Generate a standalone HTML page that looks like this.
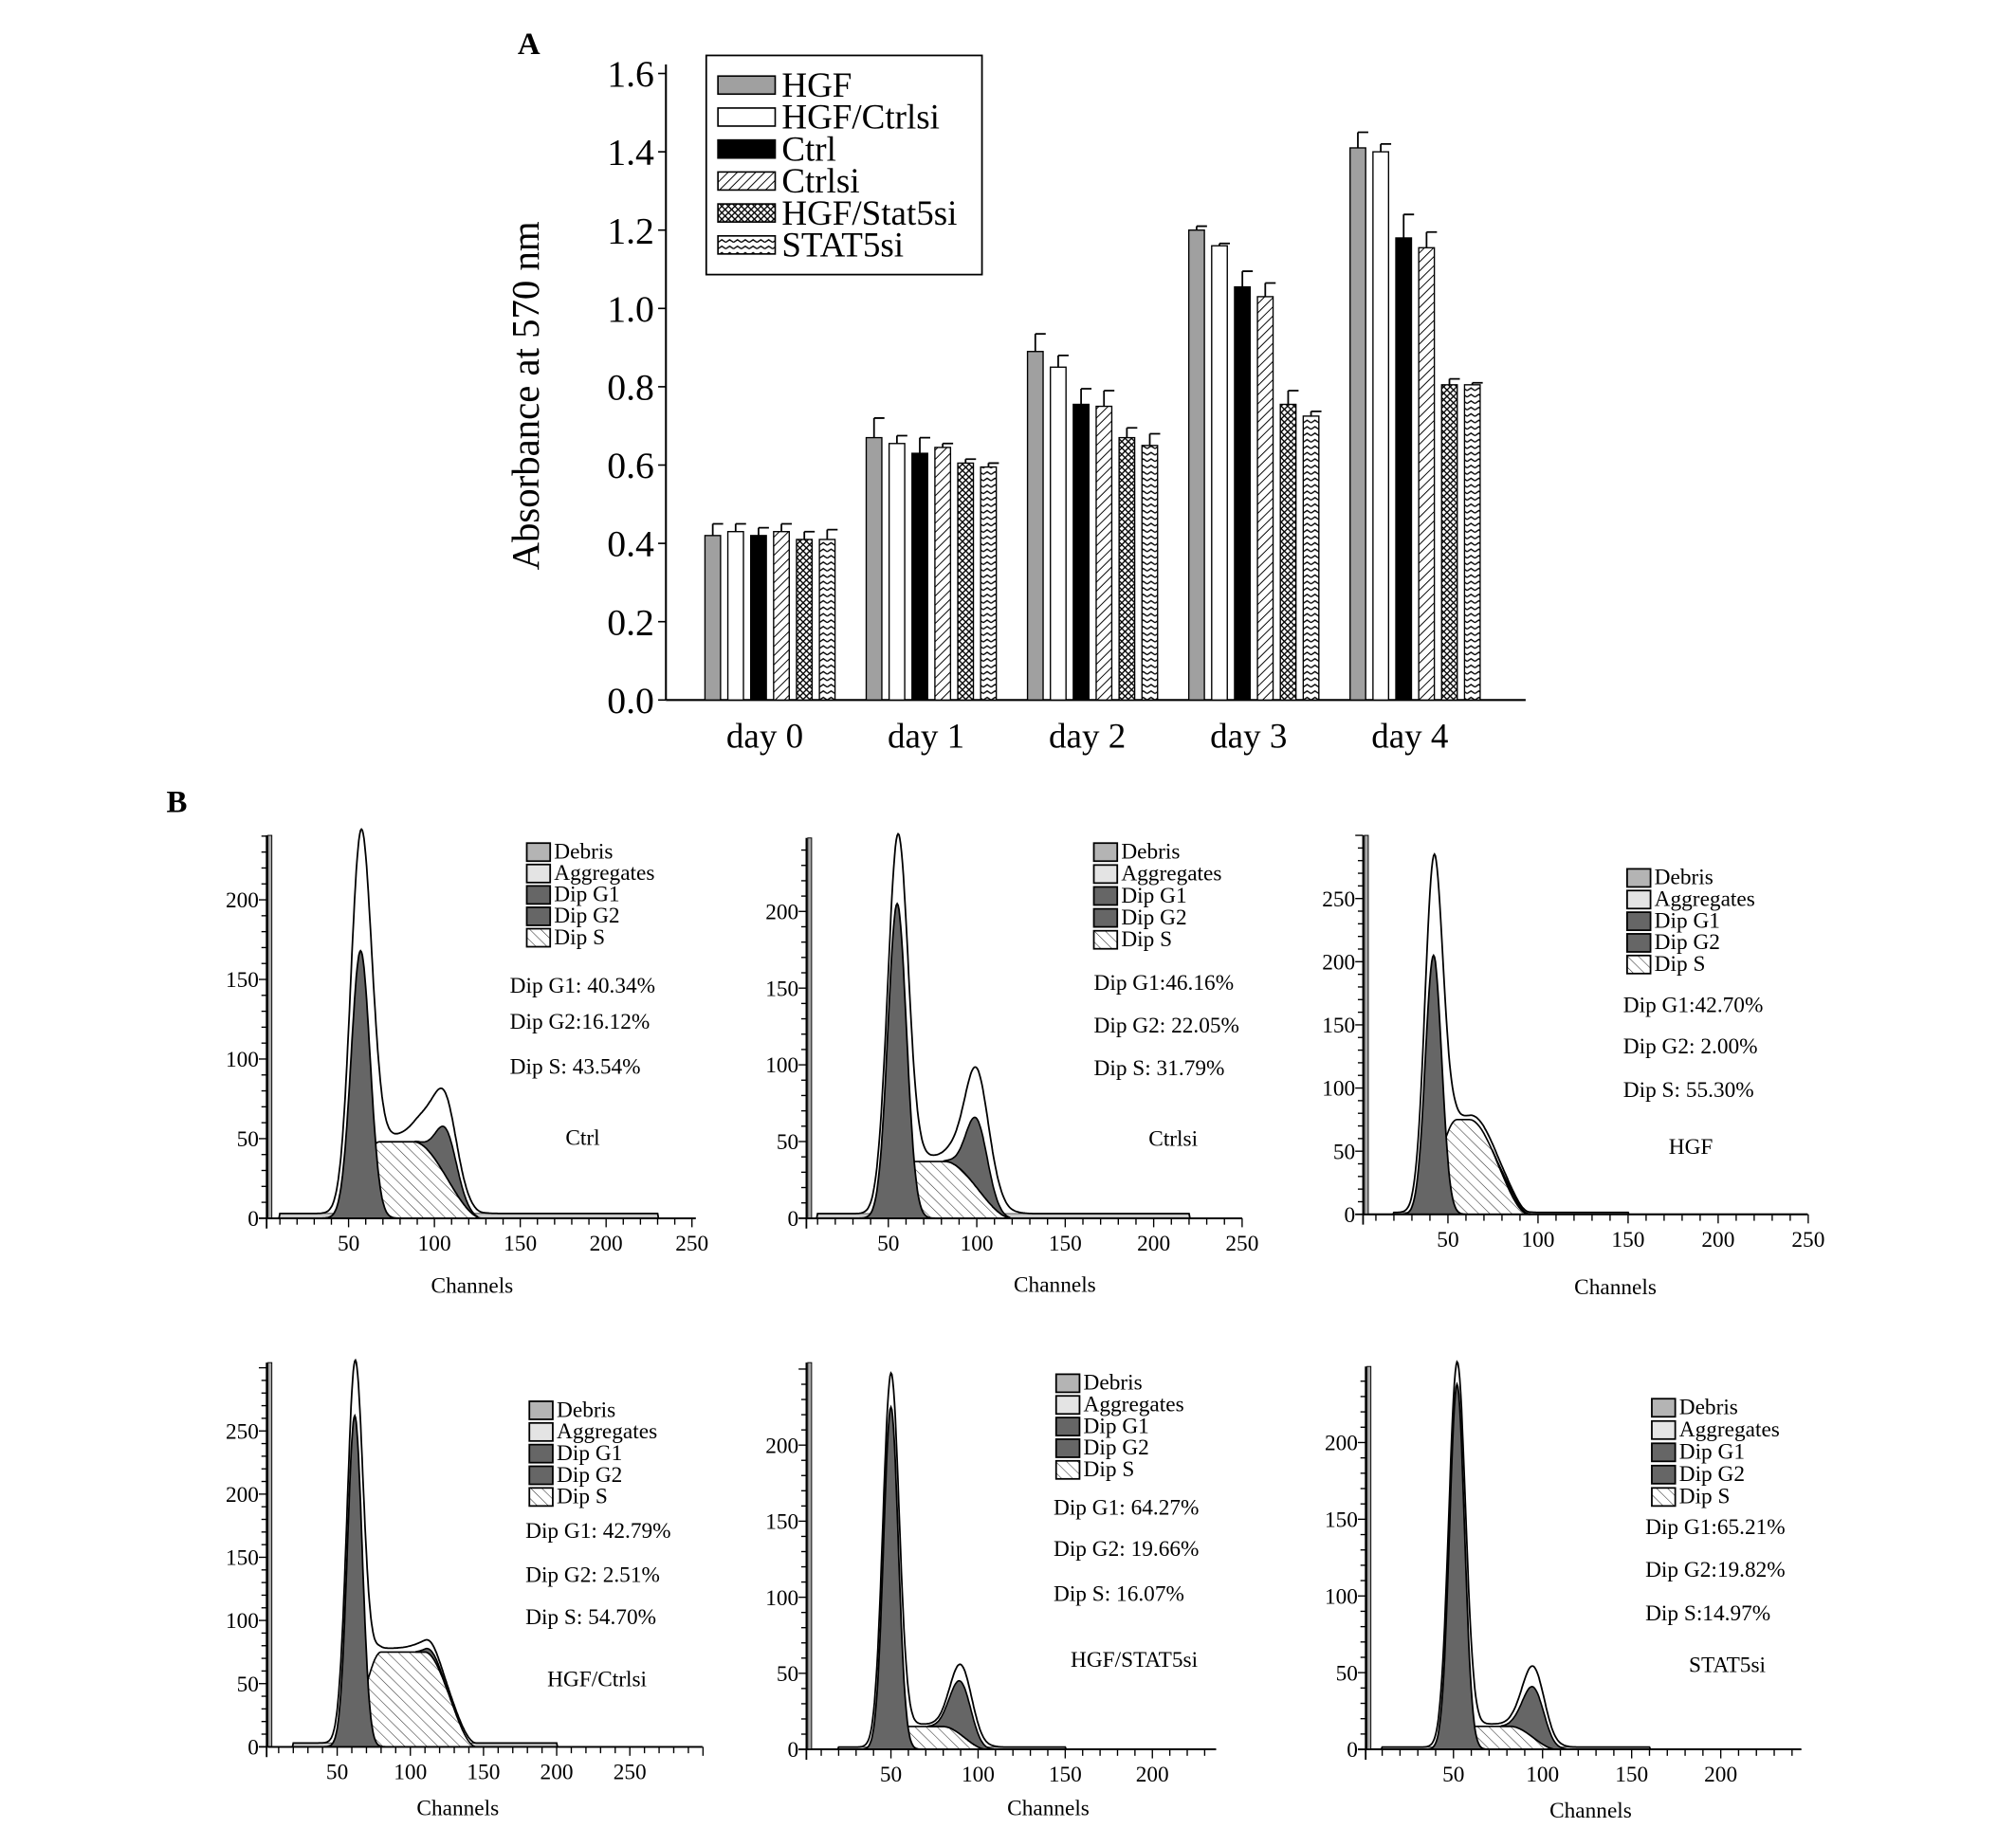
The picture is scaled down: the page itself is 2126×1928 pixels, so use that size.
<!DOCTYPE html>
<html><head><meta charset="utf-8">
<style>
html,body{margin:0;padding:0;background:#fff;}
svg{display:block;font-family:"Liberation Serif",serif;}
</style></head>
<body>
<svg id="fig" width="2126" height="1928" viewBox="0 0 1550 1418" preserveAspectRatio="none" xmlns="http://www.w3.org/2000/svg">
<defs>
<pattern id="diag" patternUnits="userSpaceOnUse" width="5" height="5" patternTransform="rotate(45)"><rect width="5" height="5" fill="#fff"/><line x1="0" y1="0" x2="0" y2="5" stroke="#000" stroke-width="1.4"/></pattern>
<pattern id="cross" patternUnits="userSpaceOnUse" width="5" height="5"><rect width="5" height="5" fill="#fff"/><path d="M0 0L5 5M5 0L0 5" stroke="#000" stroke-width="1"/></pattern>
<pattern id="zig" patternUnits="userSpaceOnUse" width="6" height="5"><rect width="6" height="5" fill="#fff"/><path d="M0 3L3 1L6 3" fill="none" stroke="#000" stroke-width="1"/></pattern>
<pattern id="hatchS" patternUnits="userSpaceOnUse" width="6" height="6" patternTransform="rotate(-45)"><rect width="6" height="6" fill="#fff"/><line x1="0" y1="0" x2="0" y2="6" stroke="#333" stroke-width="0.8"/></pattern>
</defs>
<g id="panelA"></g>
<g id="panelB"></g>
</svg>
<script>
// ---------- Panel A data ----------
const days = ["day 0","day 1","day 2","day 3","day 4"];
const seriesNames = ["HGF","HGF/Ctrlsi","Ctrl","Ctrlsi","HGF/Stat5si","STAT5si"];
const hgfVals = [0.42,0.67,0.89,1.20,1.41];
const hgfErr = [0.03,0.05,0.045,0.01,0.04];
const hgfCtrlsiVals = [0.43,0.655,0.85,1.16,1.40];
const hgfCtrlsiErr = [0.02,0.02,0.03,0.006,0.02];
const ctrlVals = [0.42,0.63,0.755,1.055,1.18];
const ctrlErr = [0.02,0.04,0.04,0.04,0.06];
const ctrlsiVals = [0.43,0.645,0.75,1.03,1.155];
const ctrlsiErr = [0.02,0.01,0.04,0.035,0.04];
const hgfStatVals = [0.41,0.605,0.67,0.755,0.805];
const hgfStatErr = [0.02,0.01,0.025,0.035,0.015];
const statVals = [0.41,0.595,0.65,0.725,0.805];
const statErr = [0.025,0.01,0.03,0.012,0.005];
const yTicksA = [0.0,0.2,0.4,0.6,0.8,1.0,1.2,1.4,1.6];

// ---------- Panel B data ----------
const panelLabels = ["Ctrl","Ctrlsi","HGF","HGF/Ctrlsi","HGF/STAT5si","STAT5si"];
const statG1 = ["Dip G1: 40.34%","Dip G1:46.16%","Dip G1:42.70%","Dip G1: 42.79%","Dip G1: 64.27%","Dip G1:65.21%"];
const statG2 = ["Dip G2:16.12%","Dip G2: 22.05%","Dip G2: 2.00%","Dip G2: 2.51%","Dip G2: 19.66%","Dip G2:19.82%"];
const statS = ["Dip S: 43.54%","Dip S: 31.79%","Dip S: 55.30%","Dip S: 54.70%","Dip S:  16.07%","Dip S:14.97%"];
// G1 peak: [center channel, fitted height, width, total height]
const g1Peaks = [[57,168,5.5,215],[55,205,5.2,228],[42,205,4.5,255],[62,262,5,288],[50,225,4.2,234],[52,238,4.2,240]];
// G2 peak: [center, height, width]
const g2Peaks = [[107,30,6,0],[100,45,6,0],[85,3,5,0],[115,4,5,0],[90,35,6,0],[95,33,6,0]];
// S phase: [start, plateau start, plateau end, end, height]
const sPhase = [[45,68,88,128,48],[48,62,82,120,37],[33,55,62,95,75],[55,80,110,145,75],[38,55,80,105,15],[40,58,82,108,15]];
// extra counts in total curve near G2 (peak ch, height, width)
const g2Extra = [[101,22,10],[100,30,9],[72,4,8],[110,4,8],[92,10,7],[95,12,7]];
// debris level: [start ch, end ch, level]
const debris = [[10,230,3],[10,220,3],[20,150,1.5],[20,200,3],[20,150,1.5],[10,160,1.5]];
const yTicksB = [[0,50,100,150,200],[0,50,100,150,200],[0,50,100,150,200,250],[0,50,100,150,200,250],[0,50,100,150,200],[0,50,100,150,200]];
const xTicksB = [[50,100,150,200,250],[50,100,150,200,250],[50,100,150,200,250],[50,100,150,200,250],[50,100,150,200],[50,100,150,200]];

const NS="http://www.w3.org/2000/svg";
function mk(tag,attrs,parent,text){const e=document.createElementNS(NS,tag);for(const k in attrs)e.setAttribute(k,attrs[k]);if(text!==undefined)e.textContent=text;parent.appendChild(e);return e;}

// ---------- Draw Panel A ----------
(function(){
  const g=document.getElementById('panelA');
  const axX=512, y0=543, yTop=57, xEnd=1173;
  const yS=v=>y0-(v/1.6)*(y0-yTop);
  const groupStart=i=>542+124*i;
  const barW=12, barStep=17.6;
  const fills=["#a0a0a0","#fff","#000","url(#diag)","url(#cross)","url(#zig)"];
  const vals=[hgfVals,hgfCtrlsiVals,ctrlVals,ctrlsiVals,hgfStatVals,statVals];
  const errs=[hgfErr,hgfCtrlsiErr,ctrlErr,ctrlsiErr,hgfStatErr,statErr];
  let t=mk('text',{x:398,y:42,'font-size':24,'font-weight':'bold'},g,'A');
  
  
  let ax=mk('line',{x1:axX,y1:50,x2:axX,y2:y0,stroke:'#000','stroke-width':1.5},g);
  
  
  let xa=mk('line',{x1:axX,y1:y0,x2:xEnd,y2:y0,stroke:'#000','stroke-width':1.5},g);
  
  
  yTicksA.forEach(v=>{
    mk('line',{x1:axX-6,y1:yS(v),x2:axX,y2:yS(v),stroke:'#000','stroke-width':1.2},g);
    const tl=mk('text',{x:503,y:yS(v)+10,'font-size':29,'text-anchor':'end'},g,v.toFixed(1));
    
    
  });
  const yt=mk('text',{x:0,y:0,'font-size':30,'text-anchor':'middle',transform:'translate(414,307) rotate(-90)'},g,'Absorbance at 570 nm');
  
  
  days.forEach((d,i)=>{
    const cx=groupStart(i)+2.5*barStep+barW/2;
    const dl=mk('text',{x:cx-4,y:580,'font-size':27,'text-anchor':'middle'},g,d);
    
    
    vals.forEach((arr,s)=>{
      const x=groupStart(i)+s*barStep, v=arr[i], e=errs[s][i];
      const r=mk('rect',{x:x,y:yS(v),width:barW,height:y0-yS(v),fill:fills[s],stroke:'#000','stroke-width':1},g);
      
      
      mk('path',{d:`M${x+barW/2} ${yS(v)}V${yS(v+e)}M${x+barW/2} ${yS(v+e)}H${x+barW+2}`,stroke:'#000','stroke-width':1.3,fill:'none'},g);
    });
  });
  const lg=mk('g',{},g);
  
  
  mk('rect',{x:543,y:43,width:212,height:170,fill:'#fff',stroke:'#000','stroke-width':1.3},lg);
  seriesNames.forEach((n,s)=>{
    const cy=66+24.8*s;
    const e=mk('g',{},lg);
    
    
    mk('rect',{x:552,y:cy-7,width:44,height:14,fill:fills[s],stroke:'#000','stroke-width':1.2},e);
    mk('text',{x:601,y:cy+9,'font-size':27},e,n);
  });
})();

// ---------- Draw Panel B ----------
const layouts=[
 {ax:205,top:648,y0:945,right:535,ppu:61.75/50,x0:202,ppc:1.32,lx:405,ly:661,ld:16.6,sx:392,sy:[765,793,828],lab:[448,883],ch:[363,1003]},
 {ax:620,top:650,y0:945,right:955,ppu:59.5/50,x0:615,ppc:1.36,lx:841,ly:661,ld:17,sx:841,sy:[763,796,829],lab:[902,884],ch:[811,1002]},
 {ax:1048,top:648,y0:942,right:1390,ppu:49/50,x0:1044,ppc:1.385,lx:1251,ly:681,ld:16.8,sx:1248,sy:[780,812,846],lab:[1300,890],ch:[1242,1004]},
 {ax:205,top:1057,y0:1355,right:540,ppu:49/50,x0:203,ppc:1.125,lx:407,ly:1094,ld:16.8,sx:404,sy:[1188,1222,1255],lab:[459,1303],ch:[352,1408]},
 {ax:620,top:1057,y0:1357,right:935,ppu:59/50,x0:618,ppc:1.34,lx:812,ly:1073,ld:16.8,sx:810,sy:[1170,1202,1237],lab:[872,1288],ch:[806,1408]},
 {ax:1050,top:1060,y0:1357,right:1385,ppu:59.5/50,x0:1049,ppc:1.37,lx:1270,ly:1092,ld:17.3,sx:1265,sy:[1185,1218,1252],lab:[1328,1292],ch:[1223,1410]}
];
const legendNames=["Debris","Aggregates","Dip G1","Dip G2","Dip S"];
const legendFills=["#b4b4b4","#e4e4e4","#666","#666","url(#hatchS)"];
function gauss(x,c,h,s){return h*Math.exp(-((x-c)*(x-c))/(2*s*s));}
function sm(t){t=Math.max(0,Math.min(1,t));return t*t*(3-2*t);}
function trap(x,p){const[a,b,c,d,h]=p;if(x<a||x>d)return 0;if(x<b)return h*sm((x-a)/(b-a));if(x<=c)return h;return h*sm((d-x)/(d-c));}
(function(){
  const root=document.getElementById('panelB');
  const bl=mk('text',{x:128,y:630,'font-size':24,'font-weight':'bold'},root,'B');
  
  
  layouts.forEach((L,p)=>{
    const g=mk('g',{},root);
    
    
    const X=c=>L.x0+L.ppc*c, Y=v=>L.y0-L.ppu*v;
    const chMax=(L.right-L.x0)/L.ppc;
    const G1=c=>gauss(c,g1Peaks[p][0],g1Peaks[p][1],g1Peaks[p][2]);
    const G1t=c=>gauss(c,g1Peaks[p][0],g1Peaks[p][3],g1Peaks[p][2]*1.1);
    const G2=c=>gauss(c,g2Peaks[p][0],g2Peaks[p][1],g2Peaks[p][2]);
    const S=c=>trap(c,sPhase[p]);
    const D=c=>(c>=debris[p][0]&&c<=debris[p][1])?debris[p][2]:0;
    const E=c=>gauss(c,g2Extra[p][0],g2Extra[p][1],g2Extra[p][2]);
    const cs=[];for(let c=3;c<=chMax;c+=0.5)cs.push(c);
    const area=(f)=>'M'+X(cs[0])+' '+L.y0+cs.map(c=>'L'+X(c).toFixed(1)+' '+Y(f(c)).toFixed(1)).join('')+'L'+X(cs[cs.length-1])+' '+L.y0+'Z';
    const line=(f)=>'M'+cs.map(c=>X(c).toFixed(1)+' '+Y(f(c)).toFixed(1)).join('L');
    let a;
    a=mk('path',{d:area(c=>D(c)),fill:'#ccc',stroke:'#555','stroke-width':0.8},g);
     
    a=mk('path',{d:area(c=>S(c)),fill:'url(#hatchS)',stroke:'#000','stroke-width':1.2},g);
     
    const g2c=cs.filter(c=>G2(c)>0.3);
    if(g2c.length){
      a=mk('path',{d:'M'+g2c.map(c=>X(c).toFixed(1)+' '+Y(S(c)+G2(c)).toFixed(1)).join('L')+'L'+g2c.slice().reverse().map(c=>X(c).toFixed(1)+' '+Y(S(c)).toFixed(1)).join('L')+'Z',fill:'#666',stroke:'#000','stroke-width':1.2},g);
       
    }
    a=mk('path',{d:area(c=>G1(c)),fill:'#666',stroke:'#000','stroke-width':1.3},g);
     
    a=mk('path',{d:line(c=>Math.max(G1t(c),G1(c))+S(c)+G2(c)+E(c)+D(c)),fill:'none',stroke:'#000','stroke-width':1.3},g);
     
    // axes
    mk('rect',{x:L.ax+1,y:L.top,width:3,height:L.y0-L.top,fill:'#aaa',stroke:'#000','stroke-width':0.7},g);
    a=mk('line',{x1:L.ax,y1:L.top,x2:L.ax,y2:L.y0+8,stroke:'#000','stroke-width':1.3},g);
     
    a=mk('line',{x1:L.ax-6,y1:L.y0,x2:L.right,y2:L.y0,stroke:'#000','stroke-width':1.3},g);
     
    const ymax=(L.y0-L.top)/L.ppu;
    for(let v=0;v<=ymax;v+=10){mk('line',{x1:L.ax-(v%50===0?6:4),y1:Y(v),x2:L.ax,y2:Y(v),stroke:'#000','stroke-width':1},g);}
    yTicksB[p].forEach(v=>{const t=mk('text',{x:L.ax-6,y:Y(v)+6,'font-size':17,'text-anchor':'end'},g,String(v));
       });
    for(let c=10;c<=chMax+0.5;c+=10){mk('line',{x1:X(c),y1:L.y0,x2:X(c),y2:L.y0+(c%50===0?7:5),stroke:'#000','stroke-width':1},g);}
    xTicksB[p].forEach(c=>{const t=mk('text',{x:X(c),y:L.y0+25,'font-size':17,'text-anchor':'middle'},g,String(c));
       });
    a=mk('text',{x:L.ch[0],y:L.ch[1],'font-size':17,'text-anchor':'middle'},g,'Channels');
     
    // legend
    const lg=mk('g',{},g);
     
    legendNames.forEach((n,i)=>{
      const cy=L.ly+i*L.ld;
      const e=mk('g',{},lg);
       
      mk('rect',{x:L.lx,y:cy-7,width:18,height:14,fill:legendFills[i],stroke:'#000','stroke-width':1.3},e);
      mk('text',{x:L.lx+21,y:cy+5,'font-size':17},e,n);
    });
    [statG1[p],statG2[p],statS[p]].forEach((s,i)=>{
      const t=mk('text',{x:L.sx,y:L.sy[i]+5,'font-size':17},g,s);
       
    });
    a=mk('text',{x:L.lab[0],y:L.lab[1]+5,'font-size':17,'text-anchor':'middle'},g,panelLabels[p]);
     
  });
})();
</script>
</body></html>
